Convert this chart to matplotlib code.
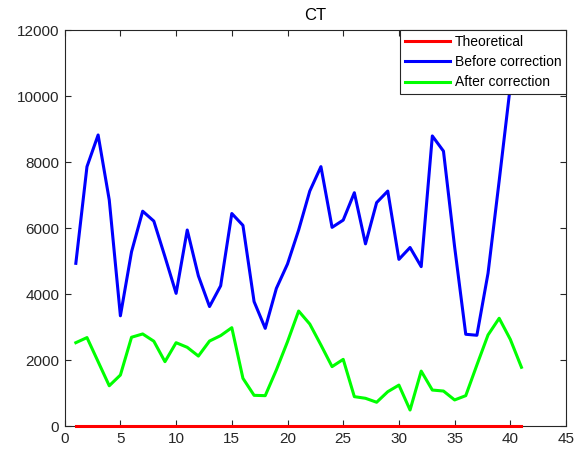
import numpy as np
import matplotlib
matplotlib.use('Agg')
import matplotlib.pyplot as plt

plt.rcParams['font.family'] = ['Liberation Sans', 'DejaVu Sans']

# ================= 数据 =================
x = list(range(1, 42))

theoretical = [0] * 41

before = [4930, 7860, 8820, 6850, 3340, 5280, 6510, 6210, 5130, 4020,
          5940, 4550, 3620, 4250, 6440, 6080, 3770, 2960, 4170, 4910,
          5940, 7120, 7860, 6020, 6240, 7070, 5520, 6770, 7120, 5050,
          5410, 4830, 8790, 8330, 5430, 2780, 2750, 4630, 7430, 10300,
          11600]

after = [2525, 2680, 1950, 1220, 1545, 2690, 2790, 2570, 1950, 2525,
         2385, 2120, 2575, 2740, 2980, 1445, 930, 920, 1700, 2555,
         3485, 3090, 2455, 1800, 2020, 890, 840, 720, 1040, 1240,
         485, 1665, 1090, 1060, 790, 920, 1850, 2760, 3265, 2625,
         1780]

# ================= 绘图 =================
fig = plt.figure(figsize=(5.86, 4.55), dpi=100)
ax = fig.add_axes([0.1104, 0.0637, 0.8555, 0.8703])

ax.plot(x, theoretical, color='#ff0000', linewidth=2.2, label='Theoretical',
        zorder=3, clip_on=False)
ax.plot(x, before, color='#0000ff', linewidth=2.2, label='Before correction', zorder=3)
ax.plot(x, after, color='#00ff00', linewidth=2.2, label='After correction', zorder=3)

ax.set_xlim(0, 45)
ax.set_ylim(0, 12000)
ax.set_xticks(range(0, 46, 5))
ax.set_yticks(range(0, 12001, 2000))
ax.tick_params(direction='in', top=True, right=True, length=4, width=0.8,
               labelsize=11, colors='#262626', pad=4)
for s in ax.spines.values():
    s.set_color('#262626')
    s.set_linewidth(0.8)

ax.set_title('CT', fontsize=12, color='black', pad=7)

leg = ax.legend(loc='upper right', fontsize=10, frameon=True, fancybox=False,
                borderaxespad=0, borderpad=0.35, labelspacing=0.45,
                handlelength=3.3, handletextpad=0.3, framealpha=1)
leg.set_zorder(5)
leg.get_frame().set_edgecolor('#262626')
leg.get_frame().set_linewidth(0.8)

plt.savefig('out.png', dpi=100)
